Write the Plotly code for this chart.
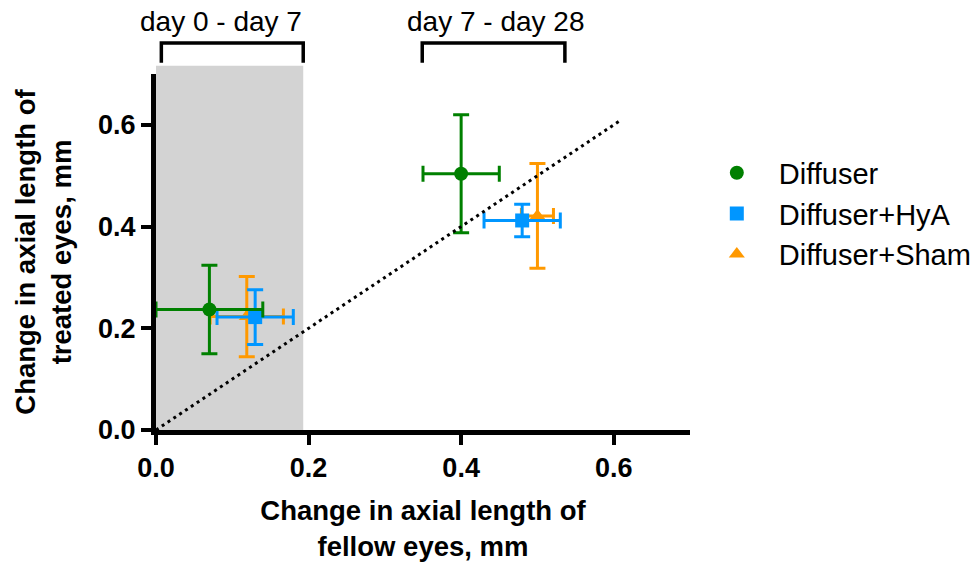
import plotly.graph_objects as go

# ---------------- data ----------------
groups = ["Diffuser", "Diffuser+HyA", "Diffuser+Sham"]
colors = ["#008000", "#0096FF", "#FF9900"]
symbols = ["circle", "square", "triangle-up"]

diffuser_x = [0.070, 0.400]
diffuser_y = [0.237, 0.504]
diffuser_xerr = [0.070, 0.050]
diffuser_yerr = [0.087, 0.116]

hya_x = [0.130, 0.480]
hya_y = [0.222, 0.412]
hya_xerr = [0.050, 0.050]
hya_yerr = [0.054, 0.032]

sham_x = [0.119, 0.500]
sham_y = [0.223, 0.421]
sham_xerr = [0.048, 0.021]
sham_yerr = [0.079, 0.103]

identity_line = [0.0, 0.61]

periods = ["day 0 - day 7", "day 7 - day 28"]
period_start = [0.007, 0.349]
period_end = [0.193, 0.536]
period_label_x = [0.085, 0.445]
period_label_y = 0.803
bracket_low = 0.722
bracket_high = 0.761

shade_x = [0.0, 0.193]
shade_top = 0.716

tick_vals = [0.0, 0.2, 0.4, 0.6]
tick_text = ["0.0", "0.2", "0.4", "0.6"]
X_MAX = 0.7
Y_MAX = 0.7

x_title = "Change in axial length of<br>fellow eyes, mm"
y_title = "Change in axial length of<br>treated eyes, mm"

FONT = "Liberation Sans, Arial, sans-serif"

# ---------------- figure ----------------
fig = go.Figure()

series = [
    (groups[2], sham_x, sham_y, sham_xerr, sham_yerr, colors[2], symbols[2], 3),
    (groups[1], hya_x, hya_y, hya_xerr, hya_yerr, colors[1], symbols[1], 2),
    (groups[0], diffuser_x, diffuser_y, diffuser_xerr, diffuser_yerr, colors[0], symbols[0], 1),
]
for name, xs, ys, xe, ye, col, sym, rank in series:
    fig.add_trace(go.Scatter(
        x=xs, y=ys, name=name, mode="markers",
        marker=dict(color=col, symbol=sym, size=14),
        error_x=dict(type="data", array=xe, color=col, thickness=3, width=8),
        error_y=dict(type="data", array=ye, color=col, thickness=3, width=8),
        legendrank=rank, cliponaxis=False,
    ))

fig.add_trace(go.Scatter(
    x=identity_line, y=identity_line, mode="lines", showlegend=False,
    line=dict(color="black", width=3, dash="3px,4px"), hoverinfo="skip",
))

shapes = [dict(type="rect", xref="x", yref="paper", x0=shade_x[0], x1=shade_x[1],
               y0=0, y1=shade_top / Y_MAX, fillcolor="#D3D3D3", line=dict(width=0),
               layer="below")]
annotations = []
for lab, x0, x1, lx in zip(periods, period_start, period_end, period_label_x):
    yl = bracket_low / Y_MAX
    yh = bracket_high / Y_MAX
    shapes.append(dict(type="path", xref="x", yref="paper",
                       path=f"M {x0},{yl} L {x0},{yh} L {x1},{yh} L {x1},{yl}",
                       line=dict(color="black", width=3.5)))
    annotations.append(dict(x=lx, y=period_label_y / Y_MAX, xref="x", yref="paper", text=lab,
                            showarrow=False, font=dict(family=FONT, size=28, color="black"),
                            xanchor="center", yanchor="middle"))

axis_common = dict(
    showline=True, linewidth=5, linecolor="black", showgrid=False, zeroline=False,
    ticks="outside", ticklen=10, tickwidth=4, tickcolor="black",
    tickvals=tick_vals, ticktext=tick_text,
    tickfont=dict(family=FONT, size=27, color="black", weight="bold"),
)

fig.update_layout(
    width=975, height=565,
    margin=dict(l=156, r=285, t=74, b=135, autoexpand=False),
    paper_bgcolor="white", plot_bgcolor="white",
    xaxis=dict(range=[0, X_MAX], **axis_common,
               title=dict(text=x_title, standoff=20,
                          font=dict(family=FONT, size=27.5, color="black", weight="bold"))),
    yaxis=dict(range=[0, Y_MAX], **axis_common,
               title=dict(text=y_title, standoff=20,
                          font=dict(family=FONT, size=27.5, color="black", weight="bold"))),
    shapes=shapes, annotations=annotations,
    legend=dict(x=1.009, y=0.794, xanchor="left", yanchor="top",
                font=dict(family=FONT, size=29, color="black"),
                itemwidth=74, traceorder="normal", bgcolor="rgba(0,0,0,0)"),
    showlegend=True,
)

fig.write_html("out.html")
